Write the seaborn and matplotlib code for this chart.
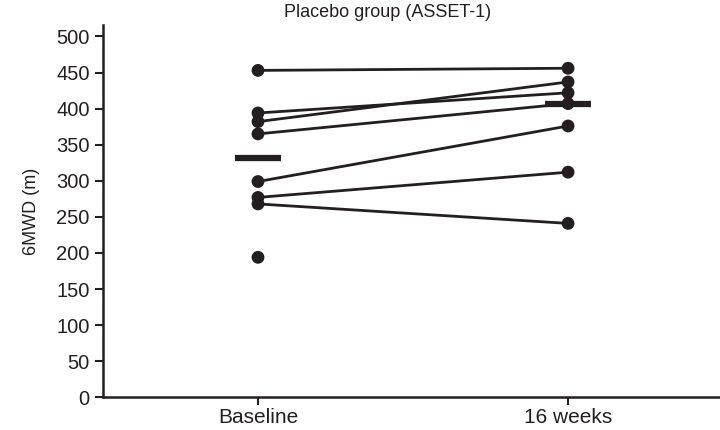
import seaborn as sns
import matplotlib.pyplot as plt
import numpy as np
import pandas as pd

timepoints = ['Baseline', '16 weeks']
subjects = [1, 2, 3, 4, 5, 6, 7, 8]
baseline = [453, 394, 382, 365, 299, 277, 268, 194]
week16 = [456, 422, 437, 407, 376, 312, 241, np.nan]

sns.set_style('ticks')
plt.rcParams['font.family'] = ['Liberation Sans', 'DejaVu Sans']
ink = '#231f20'

rows = []
for s, b, w in zip(subjects, baseline, week16):
    rows.append({'subject': s, 'time': 0, 'distance': b})
    if not np.isnan(w):
        rows.append({'subject': s, 'time': 1, 'distance': w})
df = pd.DataFrame(rows)

fig = plt.figure(figsize=(7.2, 4.3), dpi=100)
ax = fig.add_axes([0.143, 0.076, 0.857, 0.866])

sns.lineplot(data=df, x='time', y='distance', units='subject', estimator=None,
             color=ink, linewidth=2, ax=ax, legend=False)
sns.scatterplot(data=df, x='time', y='distance', color=ink, s=85,
                edgecolor='none', ax=ax, zorder=3, legend=False)

medians = df.groupby('time')['distance'].median()
ax.hlines(medians.values, medians.index - 0.075, medians.index + 0.075,
          color=ink, linewidth=4.5, zorder=4)

ax.set_xlim(-0.5, 1.49)
ax.set_ylim(0, 516)
ax.set_yticks(range(0, 501, 50))
ax.set_xticks([0, 1])
ax.set_xticklabels(timepoints)
ax.tick_params(axis='both', colors=ink, width=1.5, length=6)
ax.tick_params(axis='y', labelsize=14.5)
ax.tick_params(axis='x', labelsize=15, pad=2)
ax.set_xlabel('')
ax.set_ylabel('6MWD (m)', fontsize=13, color=ink, labelpad=12)
ax.set_title('Placebo group (ASSET-1)', fontsize=13, color=ink, pad=6, x=0.462)
for side in ['left', 'bottom']:
    ax.spines[side].set_linewidth(1.8)
    ax.spines[side].set_color(ink)
ax.spines['top'].set_visible(False)
ax.spines['right'].set_visible(False)

fig.savefig('out.png', dpi=100)
